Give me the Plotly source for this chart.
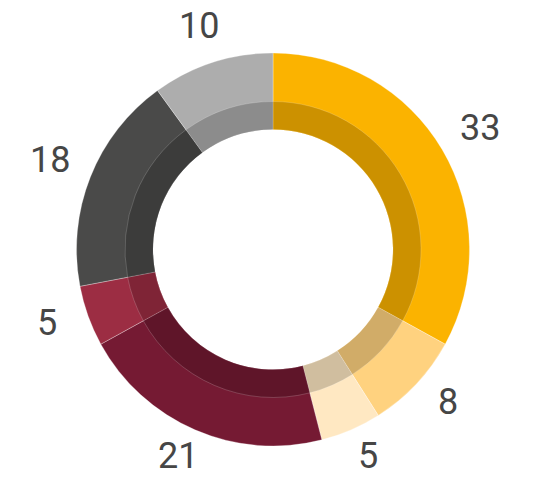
import numpy as np
import plotly.graph_objects as go

# Slice values, clockwise from 12 o'clock
values = [33, 8, 5, 21, 5, 18, 10]
labels = ["A", "B", "C", "D", "E", "F", "G"]
colors = ["#FBB300", "#FFD27F", "#FFE8C2", "#751A33", "#9C2D43", "#4A4A49", "#ADADAD"]
inner_colors = ["#CC9100", "#D1AC68", "#D0BE9F", "#5F1529", "#7F2436", "#3C3C3B", "#8C8C8C"]

W, H = 534, 479
cx, cy = 273, 249.5          # pixel centre of the ring
r_out, r_mid, r_in = 196.5, 148, 120
# value labels sit on a slightly flattened ellipse around the ring
lab_cy, lab_rx, lab_ry = 245, 240, 230

def dom(r):
    return dict(x=[(cx - r) / W, (cx + r) / W], y=[1 - (cy + r) / H, 1 - (cy - r) / H])

outer = go.Pie(
    values=values, labels=labels, sort=False, direction="clockwise", rotation=0,
    hole=r_in / r_out, domain=dom(r_out), textinfo="none", hoverinfo="label+value",
    marker=dict(colors=colors, line=dict(width=0.6, color="rgba(255,255,255,0.5)")),
)
inner = go.Pie(
    values=values, labels=labels, sort=False, direction="clockwise", rotation=0,
    hole=r_in / r_mid, domain=dom(r_mid), textinfo="none", hoverinfo="label+value",
    marker=dict(colors=inner_colors, line=dict(width=0.6, color="rgba(255,255,255,0.3)")),
)

# value labels outside the ring, at each slice's mid angle
tot = sum(values)
mids = (np.cumsum(values) - np.array(values) / 2) / tot * 2 * np.pi
annotations = []
for v, a in zip(values, mids):
    px = cx + lab_rx * np.sin(a)
    py = lab_cy - lab_ry * np.cos(a)
    annotations.append(dict(
        x=px / W, y=1 - py / H, xref="paper", yref="paper", text=str(v),
        showarrow=False, xanchor="center", yanchor="middle",
        font=dict(family="Roboto", size=36, color="#464646"),
    ))

fig = go.Figure(data=[outer, inner])
fig.update_layout(
    width=W, height=H, showlegend=False,
    margin=dict(l=0, r=0, t=0, b=0),
    paper_bgcolor="white", plot_bgcolor="white",
    annotations=annotations,
)
fig.write_html("out.html", config={"displayModeBar": False},
               post_script="document.body.style.margin='0';")
